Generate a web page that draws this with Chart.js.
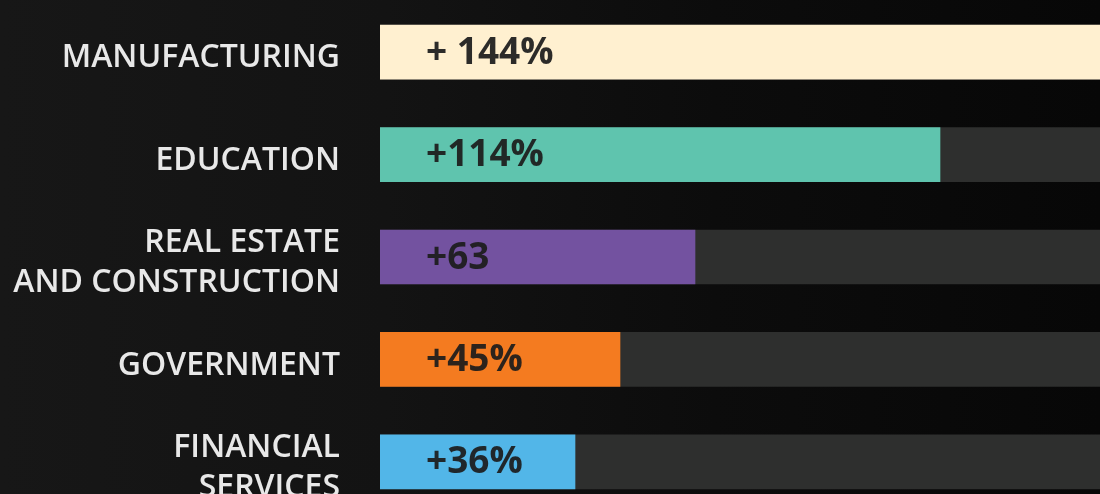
<!DOCTYPE html>
<html lang="en">
<head>
  <meta charset="UTF-8">
  <title>Growth by Sector</title>
  <script src="https://cdn.jsdelivr.net/npm/chart.js"></script>
  <style>
    html, body {
      margin: 0;
      padding: 0;
      overflow: hidden;
    }
    body {
      width: 1100px;
      height: 494px;
      background: linear-gradient(to right, #171717 0%, #131313 35%, #0c0c0c 65%, #070707 100%);
    }
    .chart-container {
      position: relative;
      width: 1100px;
      height: 516px;
    }
  </style>
</head>
<body>
  <div class="chart-container">
    <canvas id="growthChart"></canvas>
  </div>

  <script>
    // Sectors and growth
    const sectors = [
      'MANUFACTURING',
      'EDUCATION',
      ['REAL ESTATE', 'AND CONSTRUCTION'],
      'GOVERNMENT',
      ['FINANCIAL', 'SERVICES']
    ];
    const growth = [144, 112, 63, 48, 39];
    const growthLabels = ['+ 144%', '+114%', '+63', '+45%', '+36%'];
    const trackMax = [144, 144, 144, 144, 144];
    const barColors = ['#fff0d0', '#5fc4ae', '#7352a0', '#f47b20', '#52b6e8'];

    // Draw the value text inside each bar
    const valueLabels = {
      id: 'valueLabels',
      afterDatasetsDraw(chart) {
        const ctx = chart.ctx;
        const meta = chart.getDatasetMeta(0);
        ctx.save();
        ctx.font = 'bold 37px "Open Sans"';
        ctx.fillStyle = 'rgba(28, 28, 28, 0.93)';
        ctx.textAlign = 'left';
        ctx.textBaseline = 'middle';
        meta.data.forEach((bar, i) => {
          ctx.fillText(growthLabels[i], chart.chartArea.left + 46, bar.y + 1);
        });
        ctx.restore();
      }
    };

    const ctx = document.getElementById('growthChart').getContext('2d');

    new Chart(ctx, {
      type: 'bar',
      data: {
        labels: sectors,
        datasets: [
          {
            label: 'Growth',
            data: growth,
            backgroundColor: barColors,
            barThickness: 54,
            grouped: false
          },
          {
            label: 'Track',
            data: trackMax,
            backgroundColor: '#2e2f2e',
            barThickness: 54,
            grouped: false
          }
        ]
      },
      options: {
        indexAxis: 'y',
        responsive: true,
        maintainAspectRatio: false,
        animation: false,
        layout: {
          padding: { top: 1, bottom: 3, left: 0, right: 0 }
        },
        plugins: {
          legend: { display: false },
          tooltip: { enabled: false }
        },
        scales: {
          x: {
            display: false,
            min: 0,
            max: 144
          },
          y: {
            grid: { display: false, drawTicks: false },
            border: { display: false },
            afterFit(scale) {
              scale.width = 380;
              scale.paddingTop = 0;
              scale.paddingBottom = 0;
            },
            ticks: {
              color: '#e8e8e8',
              padding: 40,
              labelOffset: 6,
              font: {
                family: '"Open Sans"',
                size: 32,
                weight: '600',
                lineHeight: 1.27
              }
            }
          }
        }
      },
      plugins: [valueLabels]
    });
  </script>
</body>
</html>
